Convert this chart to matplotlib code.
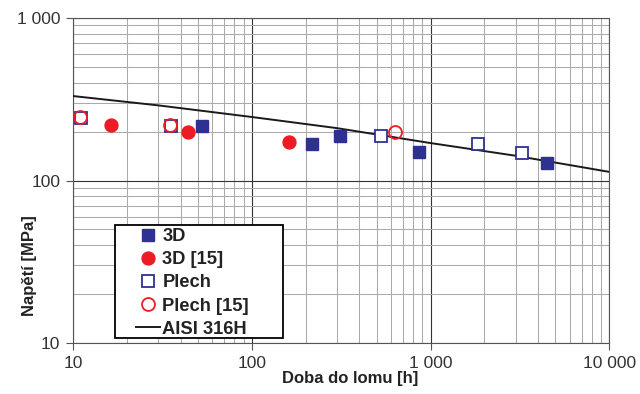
import matplotlib
matplotlib.use("Agg")
import matplotlib.pyplot as plt
from matplotlib.patches import Rectangle
from matplotlib.ticker import FixedLocator, FuncFormatter, LogLocator, NullFormatter

plt.rcParams["font.family"] = ["Liberation Sans", "DejaVu Sans"]

# data (time to rupture [h], stress [MPa])
d3_t = [52.6, 216, 310, 857, 4500]
d3_s = [216, 168, 188, 150, 128]

d3_15_t = [16.3, 43.9, 161]
d3_15_s = [219, 199, 172]

plech_t = [11.1, 35.3, 526, 1850, 3270]
plech_s = [243, 216, 188, 168, 148]

plech15_t = [11.0, 35.0, 637]
plech15_s = [245, 220, 199]

aisi_t = [10, 30, 100, 300, 1000, 3000, 10000]
aisi_s = [331, 290, 246, 210, 170, 142, 113]

blue = "#2e3192"
red = "#ed1c24"

fig = plt.figure(figsize=(6.4, 3.94), dpi=100)
ax = fig.add_axes([0.114, 0.1294, 0.838, 0.8249])
ax.set_xscale("log")
ax.set_yscale("log")
ax.set_xlim(10, 10000)
ax.set_ylim(10, 1000)

ax.plot(aisi_t, aisi_s, color="#1a1a1a", lw=1.4, label="AISI 316H", zorder=3)
ax.plot(d3_t, d3_s, ls="none", marker="s", ms=8.8, color=blue,
        mec=blue, label="3D", zorder=4)
ax.plot(d3_15_t, d3_15_s, ls="none", marker="o", ms=9.3, color=red,
        mec=red, label="3D [15]", zorder=4)
ax.plot(plech_t, plech_s, ls="none", marker="s", ms=9.3, mfc="white",
        mec=blue, mew=1.3, label="Plech", zorder=5)
ax.plot(plech15_t, plech15_s, ls="none", marker="o", ms=9.3, mfc="none",
        mec=red, mew=1.3, label="Plech [15]", zorder=6)

# grid: dark major, grey minor
ax.xaxis.set_minor_locator(LogLocator(base=10, subs=range(2, 10)))
ax.yaxis.set_minor_locator(LogLocator(base=10, subs=range(2, 10)))
ax.grid(True, which="major", color="#333333", lw=0.8)
ax.grid(True, which="minor", color="#aaaaaa", lw=0.75)
ax.set_axisbelow(True)

fmt = FuncFormatter(lambda v, p: f"{int(round(v)):,}".replace(",", " "))
ax.xaxis.set_major_locator(FixedLocator([10, 100, 1000, 10000]))
ax.yaxis.set_major_locator(FixedLocator([10, 100, 1000]))
ax.xaxis.set_major_formatter(fmt)
ax.yaxis.set_major_formatter(fmt)
ax.xaxis.set_minor_formatter(NullFormatter())
ax.yaxis.set_minor_formatter(NullFormatter())
ax.tick_params(which="major", length=5, width=0.8, color="#555555",
               labelsize=12.5, labelcolor="#333333", pad=4)
ax.tick_params(which="minor", length=0)

for s in ax.spines.values():
    s.set_color("#555555")
    s.set_linewidth(0.8)

ax.set_xlabel("Doba do lomu [h]", fontsize=12, fontweight="bold", color="#222222")
ax.set_ylabel("Napětí [MPa]", fontsize=12, fontweight="bold", color="#222222")
ax.xaxis.set_label_coords(0.517, -0.085)
ax.yaxis.set_label_coords(-0.067, 0.237)

# Excel-style legend box: wide side padding, tight rows
box = Rectangle((0.078, 0.015), 0.314, 0.348, transform=ax.transAxes,
                facecolor="white", edgecolor="black", lw=1.3, zorder=7)
ax.add_patch(box)

handles, labels = ax.get_legend_handles_labels()
order = [1, 2, 3, 4, 0]
leg = ax.legend([handles[i] for i in order], [labels[i] for i in order],
                loc="upper left", bbox_to_anchor=(0.117, 0.354),
                prop={"weight": "bold", "size": 13.2}, frameon=False,
                borderpad=0, labelspacing=0.34, handlelength=1.3,
                handletextpad=0.15, borderaxespad=0)
leg.set_zorder(8)
for t in leg.get_texts():
    t.set_color("#222222")

fig.savefig("out.png", dpi=100)
